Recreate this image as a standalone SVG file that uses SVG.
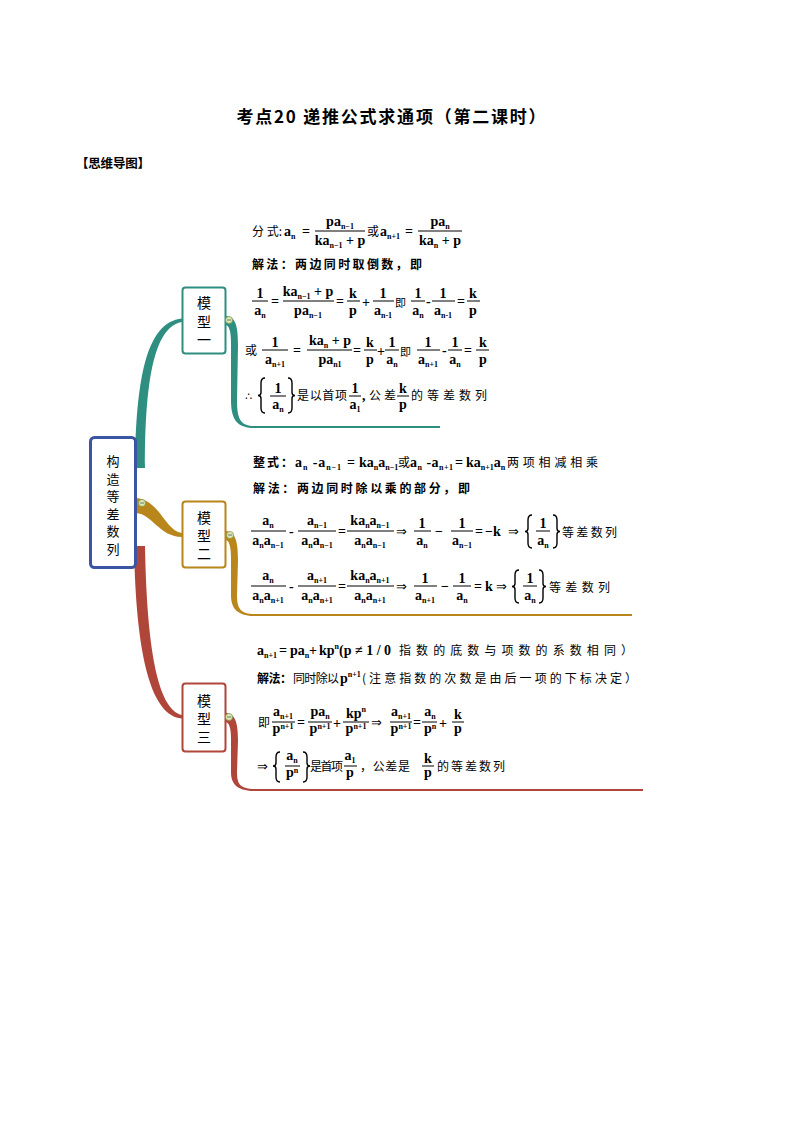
<svg xmlns="http://www.w3.org/2000/svg" width="794" height="1123" viewBox="0 0 794 1123">
<style>
.f{font-family:"Liberation Serif","DejaVu Serif",serif;font-weight:bold;font-size:14px;fill:#000}
.m{text-anchor:middle}
.s{font-size:8px}
.c{font-family:"Noto Sans CJK SC",sans-serif;font-size:12px;fill:#000}
.cb{font-family:"Noto Sans CJK SC",sans-serif;font-size:12px;font-weight:bold;fill:#000}
.ar{font-family:"DejaVu Sans",sans-serif;font-size:13px;fill:#000}
.b{stroke:#000;stroke-width:1}
.br{fill:none;stroke:#000;stroke-width:1.4}
.nt{font-family:"Noto Sans CJK SC",sans-serif;font-size:14px;text-anchor:middle;fill:#000}
.mk{fill:#dfe9b8;stroke:#7d9a4a;stroke-width:0.8}
.mkl{stroke:#555;stroke-width:0.8}
</style>
<rect width="794" height="1123" fill="#fff"/>
<text x="391" y="123" text-anchor="middle" textLength="309" lengthAdjust="spacing" style="font-family:'Noto Sans CJK SC',sans-serif;font-size:17px;font-weight:bold">考点20 递推公式求通项（第二课时）</text>
<text x="76" y="168" textLength="74" lengthAdjust="spacing" style="font-family:'Noto Sans CJK SC',sans-serif;font-size:12.5px;font-weight:bold">【思维导图】</text>

<g id="connectors">
<path d="M 135 468 C 136 380 146 322 182 318.5 L 182 322 C 153 327 145 385 145 468 Z" fill="#2e8f80"/>
<path d="M 136 498 C 160 500 165 531 182 533 L 182 537 C 160 537 152 514 136 513 Z" fill="#b8861a"/>
<path d="M 134 546 C 136 660 152 716 182 718.5 L 182 715 C 160 710 147 660 145 546 Z" fill="#b0453a"/>
<path d="M 225 316 C 235 316 238 324 238 345 L 237 400 C 237 418 240 425 252 426 L 252 428 C 236 427 231 418 231 400 L 231 345 C 231 330 229 325 225 325 Z" fill="#2e8f80"/>
<line x1="250" y1="427" x2="440" y2="427" stroke="#2e8f80" stroke-width="2"/>
<path d="M 225 531 C 235 531 238 540 238 560 L 237 595 C 237 608 240 613 252 614 L 252 616 C 236 615 231 607 231 595 L 231 560 C 231 545 229 540 225 540 Z" fill="#b8861a"/>
<line x1="250" y1="615" x2="632" y2="615" stroke="#b8861a" stroke-width="2"/>
<path d="M 225 713 C 235 713 238 722 238 740 L 237 772 C 237 784 240 788 252 789 L 252 791 C 236 790 231 783 231 772 L 231 740 C 231 727 229 722 225 722 Z" fill="#b0453a"/>
<line x1="250" y1="790" x2="643" y2="790" stroke="#b0453a" stroke-width="2"/>
</g>

<g id="root">
<rect x="90.5" y="437.5" width="45" height="130" rx="4" fill="#fff" stroke="#3b55a3" stroke-width="3"/>
<text class="nt" style="font-size:13px"><tspan x="113" y="466">构</tspan><tspan x="113" y="483.5">造</tspan><tspan x="113" y="501">等</tspan><tspan x="113" y="518.5">差</tspan><tspan x="113" y="536">数</tspan><tspan x="113" y="553.5">列</tspan></text>
<circle class="mk" cx="142" cy="503" r="3.5"/><line class="mkl" x1="140" y1="503" x2="144" y2="503"/>
</g>

<g id="model1">
<rect x="182.5" y="287.5" width="43" height="66" rx="3" fill="#fff" stroke="#2e8f80" stroke-width="2"/>
<text class="nt"><tspan x="204" y="308">模</tspan><tspan x="204" y="327">型</tspan><tspan x="204" y="345">一</tspan></text>
<circle class="mk" cx="229" cy="320" r="3.5"/><line class="mkl" x1="227" y1="320" x2="231" y2="320"/>
</g>

<g id="model2">
<rect x="182.5" y="501.5" width="43" height="66" rx="3" fill="#fff" stroke="#b8861a" stroke-width="2"/>
<text class="nt"><tspan x="204" y="523">模</tspan><tspan x="204" y="541">型</tspan><tspan x="204" y="559">二</tspan></text>
<circle class="mk" cx="230" cy="535" r="3.5"/><line class="mkl" x1="228" y1="535" x2="232" y2="535"/>
</g>

<g id="model3">
<rect x="182.5" y="683.5" width="43" height="68" rx="3" fill="#fff" stroke="#b0453a" stroke-width="2"/>
<text class="nt"><tspan x="204" y="706">模</tspan><tspan x="204" y="724">型</tspan><tspan x="204" y="742">三</tspan></text>
<circle class="mk" cx="229" cy="717" r="3.5"/><line class="mkl" x1="227" y1="717" x2="231" y2="717"/>
</g>

<g id="content1">
<text class="c" x="252" y="236">分 式:</text>
<text class="f" x="284" y="236">a<tspan class="s" dy="3">n</tspan></text>
<text class="f" x="302" y="236">=</text>
<text class="f m" x="340" y="226">pa<tspan class="s" dy="3">n−1</tspan></text>
<line class="b" x1="315" y1="231" x2="365" y2="231"/>
<text class="f m" x="340" y="245">ka<tspan class="s" dy="3">n−1</tspan><tspan dy="-3"> + p</tspan></text>
<text class="c" x="367" y="236">或</text>
<text class="f" x="380" y="236">a<tspan class="s" dy="3">n+1</tspan></text>
<text class="f" x="405" y="236">=</text>
<text class="f m" x="440" y="226">pa<tspan class="s" dy="3">n</tspan></text>
<line class="b" x1="418" y1="231" x2="462" y2="231"/>
<text class="f m" x="440" y="245">ka<tspan class="s" dy="3">n</tspan><tspan dy="-3"> + p</tspan></text>

<text class="cb" x="252" y="269" textLength="170" lengthAdjust="spacing">解法：两边同时取倒数，即</text>

<text class="f m" x="260" y="298">1</text><line class="b" x1="252" y1="301" x2="268" y2="301"/><text class="f m" x="260" y="315">a<tspan class="s" dy="3">n</tspan></text>
<text class="f" x="271" y="306">=</text>
<text class="f m" x="308" y="296">ka<tspan class="s" dy="3">n−1</tspan><tspan dy="-3"> + p</tspan></text><line class="b" x1="283" y1="301" x2="334" y2="301"/><text class="f m" x="308" y="315">pa<tspan class="s" dy="3">n−1</tspan></text>
<text class="f" x="336" y="306">=</text>
<text class="f m" x="353" y="298">k</text><line class="b" x1="347" y1="301" x2="360" y2="301"/><text class="f m" x="353" y="315">p</text>
<text class="f" x="362" y="307">+</text>
<text class="f m" x="383" y="298">1</text><line class="b" x1="373" y1="301" x2="394" y2="301"/><text class="f m" x="383" y="315">a<tspan class="s" dy="3">n-1</tspan></text>
<text class="c" x="395" y="307" style="font-size:11px">即</text>
<text class="f m" x="418" y="298">1</text><line class="b" x1="411" y1="301" x2="425" y2="301"/><text class="f m" x="418" y="315">a<tspan class="s" dy="3">n</tspan></text>
<text class="f" x="426" y="306">-</text>
<text class="f m" x="443" y="298">1</text><line class="b" x1="432" y1="301" x2="455" y2="301"/><text class="f m" x="443" y="315">a<tspan class="s" dy="3">n-1</tspan></text>
<text class="f" x="457" y="306">=</text>
<text class="f m" x="473" y="298">k</text><line class="b" x1="467" y1="301" x2="480" y2="301"/><text class="f m" x="473" y="315">p</text>

<text class="c" x="245" y="355">或</text>
<text class="f m" x="275" y="347">1</text><line class="b" x1="262" y1="350" x2="288" y2="350"/><text class="f m" x="275" y="364">a<tspan class="s" dy="3">n+1</tspan></text>
<text class="f" x="293" y="355">=</text>
<text class="f m" x="330" y="345">ka<tspan class="s" dy="3">n</tspan><tspan dy="-3"> + p</tspan></text><line class="b" x1="307" y1="350" x2="352" y2="350"/><text class="f m" x="330" y="364">pa<tspan class="s" dy="3">n1</tspan></text>
<text class="f" x="353" y="355">=</text>
<text class="f m" x="370" y="347">k</text><line class="b" x1="364" y1="350" x2="377" y2="350"/><text class="f m" x="370" y="364">p</text>
<text class="f" x="377" y="356">+</text>
<text class="f m" x="392" y="347">1</text><line class="b" x1="385" y1="350" x2="399" y2="350"/><text class="f m" x="392" y="364">a<tspan class="s" dy="3">n</tspan></text>
<text class="c" x="400" y="356" style="font-size:11px">即</text>
<text class="f m" x="428" y="347">1</text><line class="b" x1="417" y1="350" x2="440" y2="350"/><text class="f m" x="428" y="364">a<tspan class="s" dy="3">n+1</tspan></text>
<text class="f" x="442" y="355">-</text>
<text class="f m" x="455" y="347">1</text><line class="b" x1="448" y1="350" x2="462" y2="350"/><text class="f m" x="455" y="364">a<tspan class="s" dy="3">n</tspan></text>
<text class="f" x="464" y="355">=</text>
<text class="f m" x="483" y="347">k</text><line class="b" x1="476" y1="350" x2="489" y2="350"/><text class="f m" x="483" y="364">p</text>

<text class="ar" x="245" y="400" style="font-size:11px">∴</text>
<path class="br" d="M 265 378 Q 261 378 261 383 L 261 392.5 Q 261 395.5 258 395.5 Q 261 395.5 261 398.5 L 261 408 Q 261 413 265 413"/>
<text class="f m" x="278" y="393">1</text><line class="b" x1="270" y1="396" x2="286" y2="396"/><text class="f m" x="278" y="409">a<tspan class="s" dy="3">n</tspan></text>
<path class="br" d="M 288 378 Q 292 378 292 383 L 292 392.5 Q 292 395.5 295 395.5 Q 292 395.5 292 398.5 L 292 408 Q 292 413 288 413"/>
<text class="c" x="297" y="400" textLength="50" lengthAdjust="spacing">是以首项</text>
<text class="f m" x="355" y="393">1</text><line class="b" x1="349" y1="396" x2="361" y2="396"/><text class="f m" x="355" y="409">a<tspan class="s" dy="3">1</tspan></text>
<text class="f" x="362" y="400">,</text>
<text class="c" x="369" y="400" textLength="27" lengthAdjust="spacing">公差</text>
<text class="f m" x="403" y="393">k</text><line class="b" x1="397" y1="396" x2="409" y2="396"/><text class="f m" x="403" y="409">p</text>
<text class="c" x="411" y="400" textLength="76" lengthAdjust="spacing">的等差数列</text>
</g>

<g id="content2">
<text class="cb" x="253" y="467" textLength="40" lengthAdjust="spacing">整式：</text>
<text class="f" x="295" y="467" textLength="46" lengthAdjust="spacing">a<tspan class="s" dy="3">n</tspan><tspan dy="-3"> -a</tspan><tspan class="s" dy="3">n−1</tspan></text>
<text class="f" x="347" y="467">=</text>
<text class="f" x="359" y="467">ka<tspan class="s" dy="3">n</tspan><tspan dy="-3">a</tspan><tspan class="s" dy="3">n−1</tspan></text>
<text class="c" x="398" y="467">或</text>
<text class="f" x="410" y="467" textLength="43" lengthAdjust="spacing">a<tspan class="s" dy="3">n</tspan><tspan dy="-3"> -a</tspan><tspan class="s" dy="3">n+1</tspan></text>
<text class="f" x="455" y="467">=</text>
<text class="f" x="466" y="467">ka<tspan class="s" dy="3">n+1</tspan><tspan dy="-3">a</tspan><tspan class="s" dy="3">n</tspan></text>
<text class="c" x="507" y="467" textLength="91" lengthAdjust="spacing">两项相减相乘</text>

<text class="cb" x="253" y="493" textLength="217" lengthAdjust="spacing">解法：两边同时除以乘的部分，即</text>

<text class="f m" x="268" y="525">a<tspan class="s" dy="3">n</tspan></text><line class="b" x1="251" y1="531" x2="286" y2="531"/><text class="f m" x="268" y="545">a<tspan class="s" dy="3">n</tspan><tspan dy="-3">a</tspan><tspan class="s" dy="3">n−1</tspan></text>
<text class="f" x="289" y="536">-</text>
<text class="f m" x="317" y="525">a<tspan class="s" dy="3">n−1</tspan></text><line class="b" x1="298" y1="531" x2="336" y2="531"/><text class="f m" x="317" y="545">a<tspan class="s" dy="3">n</tspan><tspan dy="-3">a</tspan><tspan class="s" dy="3">n−1</tspan></text>
<text class="f" x="338" y="536">=</text>
<text class="f m" x="370" y="525">ka<tspan class="s" dy="3">n</tspan><tspan dy="-3">a</tspan><tspan class="s" dy="3">n−1</tspan></text><line class="b" x1="347" y1="531" x2="394" y2="531"/><text class="f m" x="370" y="545">a<tspan class="s" dy="3">n</tspan><tspan dy="-3">a</tspan><tspan class="s" dy="3">n−1</tspan></text>
<text class="ar" x="396" y="536">⇒</text>
<text class="f m" x="422" y="528">1</text><line class="b" x1="414" y1="531" x2="431" y2="531"/><text class="f m" x="422" y="545">a<tspan class="s" dy="3">n</tspan></text>
<text class="f" x="435" y="536">−</text>
<text class="f m" x="462" y="528">1</text><line class="b" x1="451" y1="531" x2="473" y2="531"/><text class="f m" x="462" y="545">a<tspan class="s" dy="3">n−1</tspan></text>
<text class="f" x="475" y="536">=</text>
<text class="f" x="485" y="536">−k</text>
<text class="ar" x="508" y="536">⇒</text>
<path class="br" d="M 532 515 Q 528 515 528 520 L 528 528.5 Q 528 531.5 525 531.5 Q 528 531.5 528 534.5 L 528 543 Q 528 548 532 548"/>
<text class="f m" x="543" y="528">1</text><line class="b" x1="536" y1="531" x2="550" y2="531"/><text class="f m" x="543" y="545">a<tspan class="s" dy="3">n</tspan></text>
<path class="br" d="M 553 515 Q 557 515 557 520 L 557 528.5 Q 557 531.5 560 531.5 Q 557 531.5 557 534.5 L 557 543 Q 557 548 553 548"/>
<text class="c" x="562" y="537" textLength="55" lengthAdjust="spacing">等差数列</text>

<text class="f m" x="268" y="580">a<tspan class="s" dy="3">n</tspan></text><line class="b" x1="251" y1="586" x2="286" y2="586"/><text class="f m" x="268" y="600">a<tspan class="s" dy="3">n</tspan><tspan dy="-3">a</tspan><tspan class="s" dy="3">n+1</tspan></text>
<text class="f" x="289" y="591">-</text>
<text class="f m" x="317" y="580">a<tspan class="s" dy="3">n+1</tspan></text><line class="b" x1="298" y1="586" x2="336" y2="586"/><text class="f m" x="317" y="600">a<tspan class="s" dy="3">n</tspan><tspan dy="-3">a</tspan><tspan class="s" dy="3">n+1</tspan></text>
<text class="f" x="338" y="591">=</text>
<text class="f m" x="370" y="580">ka<tspan class="s" dy="3">n</tspan><tspan dy="-3">a</tspan><tspan class="s" dy="3">n+1</tspan></text><line class="b" x1="347" y1="586" x2="394" y2="586"/><text class="f m" x="370" y="600">a<tspan class="s" dy="3">n</tspan><tspan dy="-3">a</tspan><tspan class="s" dy="3">n+1</tspan></text>
<text class="ar" x="396" y="591">⇒</text>
<text class="f m" x="425" y="583">1</text><line class="b" x1="414" y1="586" x2="437" y2="586"/><text class="f m" x="425" y="600">a<tspan class="s" dy="3">n+1</tspan></text>
<text class="f" x="441" y="591">−</text>
<text class="f m" x="462" y="583">1</text><line class="b" x1="453" y1="586" x2="471" y2="586"/><text class="f m" x="462" y="600">a<tspan class="s" dy="3">n</tspan></text>
<text class="f" x="474" y="591">=</text>
<text class="f" x="485" y="591">k</text>
<text class="ar" x="496" y="591">⇒</text>
<path class="br" d="M 519 570 Q 515 570 515 575 L 515 583.5 Q 515 586.5 512 586.5 Q 515 586.5 515 589.5 L 515 598 Q 515 603 519 603"/>
<text class="f m" x="530" y="583">1</text><line class="b" x1="523" y1="586" x2="537" y2="586"/><text class="f m" x="530" y="600">a<tspan class="s" dy="3">n</tspan></text>
<path class="br" d="M 539 570 Q 543 570 543 575 L 543 583.5 Q 543 586.5 546 586.5 Q 543 586.5 543 589.5 L 543 598 Q 543 603 539 603"/>
<text class="c" x="549" y="592" textLength="61" lengthAdjust="spacing">等差数列</text>
</g>

<g id="content3">
<text class="f" x="257" y="655">a<tspan class="s" dy="3">n+1</tspan></text>
<text class="f" x="279" y="655">=</text>
<text class="f" x="290" y="655">pa<tspan class="s" dy="3">n</tspan></text>
<text class="f" x="309" y="655">+</text>
<text class="f" x="319" y="655">kp<tspan class="s" dy="-6">n</tspan><tspan dy="6">(p ≠ 1 / 0</tspan></text>
<text class="c" x="399" y="655" textLength="234" lengthAdjust="spacing">指数的底数与项数的系数相同）</text>

<text class="cb" x="257" y="683" textLength="35" lengthAdjust="spacing">解法：</text>
<text class="c" x="293" y="683" textLength="46" lengthAdjust="spacing">同时除以</text>
<text class="f" x="340" y="683">p<tspan class="s" dy="-6">n+1</tspan></text>
<text class="c" x="362" y="683" textLength="275" lengthAdjust="spacing">(注意指数的次数是由后一项的下标决定）</text>

<text class="c" x="258" y="727">即</text>
<text class="f m" x="283" y="716">a<tspan class="s" dy="3">n+1</tspan></text><line class="b" x1="272" y1="722" x2="295" y2="722"/><text class="f m" x="283" y="733">p<tspan class="s" dy="-4">n+1</tspan></text>
<text class="f" x="297" y="727">=</text>
<text class="f m" x="320" y="716">pa<tspan class="s" dy="3">n</tspan></text><line class="b" x1="308" y1="722" x2="332" y2="722"/><text class="f m" x="320" y="733">p<tspan class="s" dy="-4">n+1</tspan></text>
<text class="f" x="333" y="728">+</text>
<text class="f m" x="356" y="718">kp<tspan class="s" dy="-6">n</tspan></text><line class="b" x1="343" y1="722" x2="369" y2="722"/><text class="f m" x="356" y="733">p<tspan class="s" dy="-4">n+1</tspan></text>
<text class="ar" x="371" y="727">⇒</text>
<text class="f m" x="401" y="716">a<tspan class="s" dy="3">n+1</tspan></text><line class="b" x1="390" y1="722" x2="412" y2="722"/><text class="f m" x="401" y="733">p<tspan class="s" dy="-4">n+1</tspan></text>
<text class="f" x="413" y="727">=</text>
<text class="f m" x="430" y="716">a<tspan class="s" dy="3">n</tspan></text><line class="b" x1="422" y1="722" x2="437" y2="722"/><text class="f m" x="430" y="733">p<tspan class="s" dy="-4">n</tspan></text>
<text class="f" x="439" y="728">+</text>
<text class="f m" x="458" y="719">k</text><line class="b" x1="452" y1="722" x2="464" y2="722"/><text class="f m" x="458" y="733">p</text>

<text class="ar" x="257" y="771">⇒</text>
<path class="br" d="M 280 752 Q 276 752 276 757 L 276 763 Q 276 766 273 766 Q 276 766 276 769 L 276 777 Q 276 782 280 782"/>
<text class="f m" x="292" y="760">a<tspan class="s" dy="3">n</tspan></text><line class="b" x1="285" y1="766" x2="300" y2="766"/><text class="f m" x="292" y="777">p<tspan class="s" dy="-4">n</tspan></text>
<path class="br" d="M 303 752 Q 307 752 307 757 L 307 763 Q 307 766 310 766 Q 307 766 307 769 L 307 777 Q 307 782 303 782"/>
<text class="c" x="310" y="771" textLength="33" lengthAdjust="spacing">是首项</text>
<text class="f m" x="350" y="760">a<tspan class="s" dy="3">1</tspan></text><line class="b" x1="344" y1="766" x2="357" y2="766"/><text class="f m" x="350" y="777">p</text>
<text class="c" x="360" y="771" textLength="50" lengthAdjust="spacing">，公差是</text>
<text class="f m" x="428" y="763">k</text><line class="b" x1="422" y1="766" x2="434" y2="766"/><text class="f m" x="428" y="777">p</text>
<text class="c" x="437" y="771" textLength="68" lengthAdjust="spacing">的等差数列</text>
</g>
</svg>
